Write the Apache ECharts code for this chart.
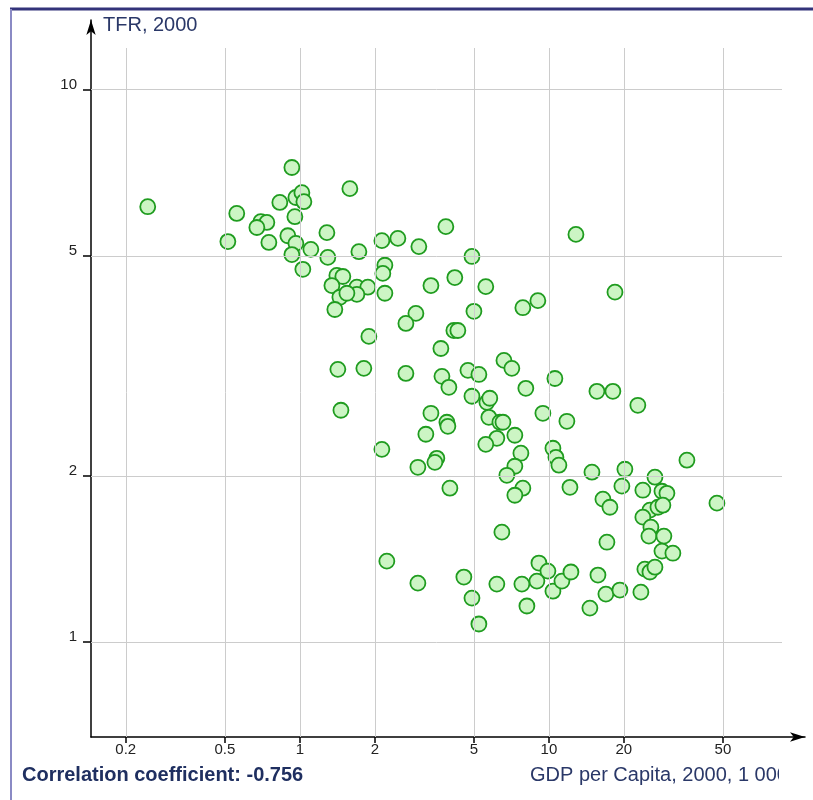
<!DOCTYPE html>
<html><head><meta charset="utf-8">
<script src="https://cdn.jsdelivr.net/npm/echarts@6/dist/echarts.min.js"></script>
<style>html,body{margin:0;padding:0;background:#fff}#c{width:813px;height:800px}</style>
</head><body><div id="c"></div>
<script>
// GDP per capita, 2000 (thousand USD)
const gdp = [0.245,0.558,0.514,0.929,0.831,0.964,1.019,1.038,0.955,0.697,0.737,0.672,0.751,0.895,0.964,0.929,1.107,1.028,1.284,1.295,
1.588,1.726,2.135,2.475,3.005,3.857,4.91,2.195,2.154,1.408,1.488,1.345,1.694,1.875,1.694,1.448,1.545,2.195,1.382,3.36,
4.19,5.58,5.0,2.924,2.666,1.893,4.154,4.31,7.86,9.03,12.84,18.42,3.684,1.421,1.807,2.666,3.72,3.967,4.73,5.235,
6.60,7.10,8.08,10.57,4.91,5.636,5.79,15.59,18.07,22.76,1.462,3.36,3.894,3.93,3.206,2.135,3.549,3.485,2.978,4.004,
5.74,6.357,6.54,6.18,5.58,7.30,7.72,7.30,6.78,7.86,7.30,9.46,11.81,10.38,10.67,10.97,12.15,14.89,20.19,19.64,
16.48,17.58,35.83,26.66,23.84,28.44,29.78,25.45,27.41,28.69,23.84,25.68,25.21,28.96,28.44,31.47,47.29,6.475,17.1,2.235,
2.978,4.556,4.91,5.235,6.18,7.79,8.16,9.12,9.91,8.95,10.38,11.28,12.26,15.74,16.94,19.28,23.41,14.61,24.29,25.45,26.66];
// Total fertility rate, 2000
const tfr = [6.14,5.97,5.31,7.23,6.25,6.38,6.51,6.27,5.89,5.77,5.75,5.63,5.29,5.44,5.27,5.03,5.14,4.73,5.51,4.97,
6.62,5.09,5.33,5.38,5.20,5.65,4.99,4.81,4.65,4.61,4.59,4.42,4.39,4.39,4.26,4.21,4.28,4.28,4.00,4.42,
4.57,4.40,3.97,3.935,3.774,3.576,3.665,3.665,4.03,4.15,5.47,4.30,3.40,3.117,3.13,3.064,3.027,2.892,3.104,3.051,
3.235,3.13,2.88,3.00,2.786,2.716,2.763,2.844,2.844,2.683,2.628,2.595,2.50,2.458,2.378,2.233,2.151,2.115,2.072,1.899,
2.552,2.50,2.50,2.338,2.28,2.368,2.197,2.081,2.004,1.899,1.844,2.595,2.51,2.243,2.16,2.09,1.906,2.03,2.055,1.915,
1.814,1.754,2.134,1.988,1.883,1.875,1.859,1.733,1.754,1.769,1.683,1.614,1.555,1.555,1.461,1.448,1.784,1.581,1.516,1.401,
1.278,1.311,1.201,1.078,1.273,1.273,1.162,1.39,1.344,1.289,1.236,1.289,1.339,1.322,1.221,1.242,1.231,1.152,1.355,1.339,1.366];
const xTicks = [0.2, 0.5, 1, 2, 5, 10, 20, 50];
const yTicks = [1, 2, 5, 10];
const xRange = [0.145, 86.3];
const yRange = [0.673, 11.9];
const yTitle = 'TFR, 2000';
const xTitle = 'GDP per Capita, 2000, 1 000 USD';
const corrText = 'Correlation coefficient: -0.756';

const points = gdp.map((g, i) => [g, tfr[i]]);
const fmt = v => String(+(+v).toPrecision(3));
const FONT = '"Liberation Sans", Arial, sans-serif';

const chart = echarts.init(document.getElementById('c'), null, {renderer: 'canvas'});
chart.setOption({
  animation: false,
  backgroundColor: '#fff',
  grid: [
    {left: 91, top: 48, right: 31, bottom: 63},
    {left: 91, top: 20, right: 8, bottom: 63}
  ],
  xAxis: [
    {type: 'log', gridIndex: 0, min: xRange[0], max: xRange[1],
     axisLine: {show: false}, splitLine: {show: false}, minorTick: {show: false},
     axisTick: {show: true, customValues: xTicks, length: 6, lineStyle: {color: '#000', width: 1.5}},
     axisLabel: {customValues: xTicks, formatter: fmt, margin: 5, color: '#222', fontSize: 15, fontFamily: FONT}},
    {type: 'value', gridIndex: 1, min: 0, max: 1,
     axisLine: {show: true, symbol: ['none', 'arrow'], symbolSize: [7, 15], lineStyle: {color: '#000', width: 1.5}},
     axisTick: {show: false}, axisLabel: {show: false}, splitLine: {show: false}}
  ],
  yAxis: [
    {type: 'log', gridIndex: 0, min: yRange[0], max: yRange[1],
     axisLine: {show: false}, splitLine: {show: false}, minorTick: {show: false},
     axisTick: {show: true, customValues: yTicks, length: 8, lineStyle: {color: '#000', width: 1.5}},
     axisLabel: {customValues: yTicks, formatter: fmt, margin: 14, verticalAlign: 'bottom', lineHeight: 10, color: '#222', fontSize: 15, fontFamily: FONT}},
    {type: 'value', gridIndex: 1, min: 0, max: 1,
     axisLine: {show: true, symbol: ['none', 'arrow'], symbolSize: [7, 15], lineStyle: {color: '#000', width: 1.5}},
     axisTick: {show: false}, axisLabel: {show: false}, splitLine: {show: false}}
  ],
  series: [
    {type: 'line', xAxisIndex: 0, yAxisIndex: 0, data: [], z: 1, silent: true,
     markLine: {silent: true, symbol: ['none', 'none'], label: {show: false},
       lineStyle: {color: '#cccccc', width: 1, type: 'solid'},
       emphasis: {disabled: true},
       data: xTicks.map(v => ({xAxis: v})).concat(yTicks.map(v => ({yAxis: v})))}},
    {type: 'scatter', xAxisIndex: 0, yAxisIndex: 0, z: 3, data: points,
     symbol: 'circle', symbolSize: 15,
     itemStyle: {color: '#ccf5c4', borderColor: '#1f9c1f', borderWidth: 1.8, opacity: 1}}
  ],
  graphic: [
    {type: 'line', shape: {x1: 10, y1: 9, x2: 813, y2: 9}, style: {stroke: '#33337a', lineWidth: 3}},
    {type: 'line', shape: {x1: 11, y1: 9, x2: 11, y2: 800}, style: {stroke: '#8a8ac4', lineWidth: 2}},
    {type: 'text', left: 103, top: 15, style: {text: yTitle, font: '20px ' + FONT, fill: '#2a3868'}},
    {type: 'text', left: 22, top: 765, style: {text: corrText, font: 'bold 20px ' + FONT, fill: '#1f2f60'}},
    {type: 'text', left: 530, top: 765, style: {text: xTitle, font: '20px ' + FONT, fill: '#2a3868'}},
    {type: 'rect', shape: {x: 779, y: 760, width: 40, height: 35}, style: {fill: '#fff'}, z: 100}
  ]
});
</script></body></html>
